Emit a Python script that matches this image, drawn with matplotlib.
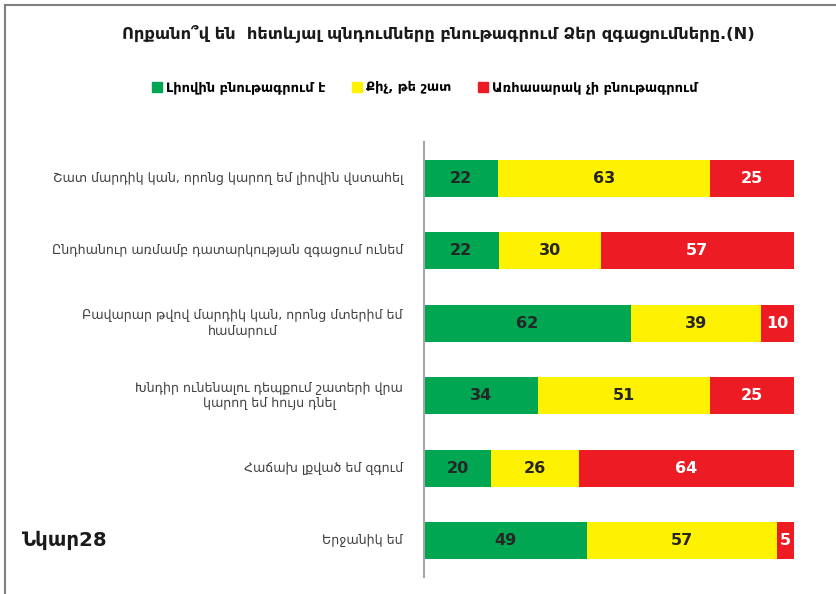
import numpy as np
import matplotlib
matplotlib.use('Agg')
import matplotlib.pyplot as plt
from matplotlib.lines import Line2D

plt.rcParams['font.family'] = ['DejaVu Sans', 'Noto Sans']

# data
categories = [
    "Շատ մարդիկ կան, որոնց կարող եմ լիովին վստահել",
    "Ընդհանուր առմամբ դատարկության զգացում ունեմ",
    "Բավարար թվով մարդիկ կան, որոնց մտերիմ եմ\nհամարում",
    "Խնդիր ունենալու դեպքում շատերի վրա\nկարող եմ հույս դնել",
    "Հաճախ լքված եմ զգում",
    "Երջանիկ եմ",
]
fully = [22, 22, 62, 34, 20, 49]
partly = [63, 30, 39, 51, 26, 57]
not_at_all = [25, 57, 10, 25, 64, 5]
series_names = ["Լիովին բնութագրում է", "Քիչ, թե շատ", "Առհասարակ չի բնութագրում"]
colors = ["#00A651", "#FFF200", "#ED1C24"]
label_colors = ["#262626", "#262626", "white"]

title = "Որքանո՞վ են  հետևյալ պնդումները բնութագրում Ձեր զգացումները.(N)"
fig_label = "Նկար28"

raw = np.array([fully, partly, not_at_all], dtype=float)
share = raw / raw.sum(axis=0) * 100

fig = plt.figure(figsize=(8.36, 5.94), dpi=100)
fig.patch.set_facecolor('white')
ax = fig.add_axes([424 / 836, 1 - 577 / 594, 370 / 836, 435 / 594])

y = np.arange(len(categories))
left = np.zeros(len(categories))
for i in range(3):
    bars = ax.barh(y, share[i], left=left, height=0.51, color=colors[i],
                   label=series_names[i])
    for j, b in enumerate(bars):
        ax.text(left[j] + share[i][j] / 2, y[j], f"{int(raw[i][j])}",
                ha='center', va='center', fontsize=11.5, fontweight='bold',
                color=label_colors[i])
    left += share[i]

ax.set_xlim(0, 100)
ax.set_ylim(len(categories) - 0.5, -0.5)
ax.set_xticks([])
ax.set_yticks([])
for s in ['top', 'right', 'bottom']:
    ax.spines[s].set_visible(False)
ax.spines['left'].set_color('#A6A6A6')
ax.spines['left'].set_linewidth(1.5)

# category labels (right aligned, centered multi-line)
for j, c in enumerate(categories):
    ax.text(-5.7, y[j], c, ha='right', va='center', fontsize=9.1,
            color='#404040', multialignment='center')

fig.text(0.524, 1 - 33 / 594, title, ha='center', va='center', fontsize=11.7,
         fontweight='bold', color='#1a1a1a')

# legend
handles = [plt.Rectangle((0, 0), 1, 1, color=c) for c in colors]
fig.legend(handles, series_names, loc='center', bbox_to_anchor=(0.508, 1 - 88 / 594),
           ncol=3, frameon=False, handlelength=0.8, handleheight=0.8,
           handletextpad=0.3, columnspacing=2.0,
           prop={'weight': 'bold', 'size': 9.4})

fig.text(22 / 836, 1 - 540 / 594, fig_label, ha='left', va='center', fontsize=14.2,
         fontweight='bold', color='#1a1a1a')

# picture frame
fig.add_artist(Line2D([5 / 836, 5 / 836], [0, 1 - 5 / 594], color='#808080', lw=1.5))
fig.add_artist(Line2D([5 / 836, 1], [1 - 5 / 594, 1 - 5 / 594], color='#808080', lw=1.5))

fig.savefig('out.png', dpi=100, facecolor='white')
